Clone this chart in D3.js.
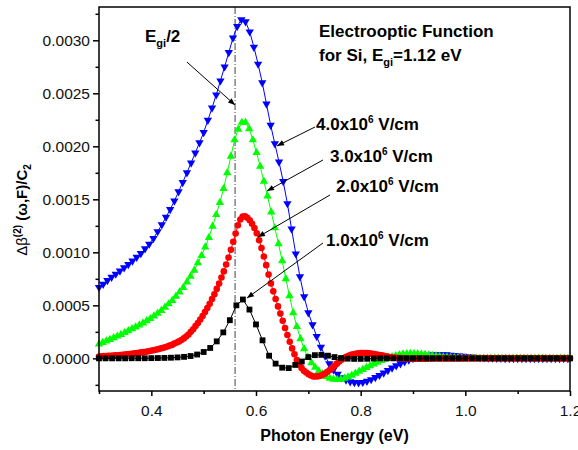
<!DOCTYPE html>
<html>
<head>
<meta charset="utf-8">
<script src="https://cdn.jsdelivr.net/npm/d3@7"></script>
<style>
  body { margin: 0; background: #fff; }
  svg { display: block; }
  text { font-family: "Liberation Sans", Arial, Helvetica, sans-serif; }
</style>
</head>
<body>
<div id="chart"></div>
<script>
// photon energy grid (eV): every series starts at 0.3, each with its own sampling step
var energyStart = 0.3;
var stepBlack = 0.0125, stepRed = 0.0045, stepGreen = 0.007, stepBlue = 0.008;

// values are delta beta / C2 in units of 1e-4
var field1 = [0,0,0,0,0,0.01,0.01,0.01,0.02,0.03,0.04,0.06,0.09,0.14,0.22,0.36,0.6,0.98,1.6,2.45,
  3.6,5.0,5.55,4.6,3.2,1.7,0.25,-0.5,-0.88,-0.92,-0.62,-0.3,0.12,0.3,0.33,0.25,0.12,0.03,-0.03,-0.05,
  -0.05,-0.04,-0.02,0,0,0,0,0,0,0,0,0,0,0,0,0,0,0,0,0,0,0,0,0,0,0,0,0,0,0,0,0,0];

var field2 = [0.18,0.19,0.21,0.22,0.23,0.25,0.27,0.28,0.30,0.32,
  0.34,0.37,0.39,0.41,0.44,0.47,0.50,0.53,0.56,0.60,
  0.63,0.67,0.71,0.76,0.81,0.86,0.92,0.97,1.04,1.12,
  1.20,1.27,1.39,1.49,1.60,1.73,1.88,2.06,2.25,2.50,
  2.75,3.04,3.33,3.66,4.00,4.36,4.75,5.15,5.60,6.05,
  6.55,7.05,7.62,8.2,8.85,9.52,10.24,11.0,11.77,12.55,
  13.1,13.37,13.4,13.26,13.02,12.7,12.3,11.8,11.14,10.41,
  9.6,8.79,7.9,7.07,6.32,5.6,4.9,4.22,3.55,2.87,
  2.2,1.57,0.94,0.38,-0.16,-0.58,-0.9,-1.17,-1.34,-1.51,
  -1.62,-1.71,-1.72,-1.70,-1.64,-1.55,-1.43,-1.27,-1.1,-0.9,
  -0.7,-0.5,-0.3,-0.13,0.03,0.15,0.25,0.34,0.39,0.44,
  0.47,0.5,0.5,0.5,0.49,0.47,0.44,0.41,0.37,0.32,
  0.28,0.24,0.19,0.15,0.11,0.08,0.06,0.03,0.02,0,
  -0.01,-0.02,-0.02,-0.03,-0.03,-0.03,-0.03,-0.03,-0.03,-0.03,
  -0.03,-0.02,-0.02,-0.02,-0.02,-0.02,-0.02,-0.02,-0.01,-0.01,
  -0.01,-0.01,-0.01,-0.01,-0.01,-0.01,0,0,0,0,
  0,0,0,0,0,0,0,0,0,0,
  0,0,0,0,0,0,0,0,0,0,
  0,0,0,0,0,0,0,0,0,0,
  0,0,0,0,0,0,0,0,0,0,
  0];

var field3 = [1.35,1.49,1.63,1.77,1.93,2.09,2.25,2.42,2.6,2.78,
  2.95,3.13,3.32,3.53,3.74,3.99,4.25,4.51,4.82,5.13,
  5.45,5.85,6.26,6.68,7.2,7.73,8.3,9.0,9.7,10.5,
  11.4,12.45,13.55,14.7,16.0,17.5,19.05,20.6,21.6,22.25,
  22.25,21.65,20.6,19.4,18.1,16.7,15.3,13.8,12.3,10.8,
  9.2,7.5,5.9,4.3,3.0,1.85,0.9,0.1,-0.42,-0.85,
  -1.2,-1.48,-1.71,-1.89,-1.98,-2.0,-1.98,-1.89,-1.76,-1.6,
  -1.42,-1.23,-1.05,-0.87,-0.7,-0.54,-0.38,-0.22,-0.09,0.03,
  0.15,0.24,0.33,0.4,0.43,0.45,0.45,0.42,0.39,0.36,
  0.31,0.27,0.22,0.18,0.13,0.1,0.08,0.05,0.04,0.02,
  0.01,0,0,0,0,0,0,0,0,0,
  0,0,0,0,0,0,0,0,0,0,
  0,0,0,0,0,0,0,0,0];

var field4 = [6.7,7.0,7.35,7.65,7.95,8.25,8.55,8.85,9.18,9.54,
  9.9,10.34,10.78,11.32,11.96,12.6,13.32,14.04,14.84,15.72,
  16.6,17.52,18.44,19.38,20.34,21.3,22.46,23.62,24.86,26.18,
  27.5,28.86,30.22,31.3,31.95,31.75,30.8,29.36,27.76,26.0,
  24.0,22.0,20.24,18.52,16.68,14.6,12.2,9.86,7.7,5.82,
  4.3,3.18,2.06,1.06,0.22,-0.5,-1.06,-1.5,-1.82,-2.04,
  -2.2,-2.28,-2.3,-2.26,-2.16,-2.0,-1.8,-1.6,-1.38,-1.14,
  -0.9,-0.7,-0.5,-0.32,-0.16,0.0,0.1,0.2,0.27,0.31,
  0.35,0.35,0.35,0.34,0.31,0.28,0.24,0.2,0.16,0.13,
  0.1,0.08,0.06,0.04,0.03,0.02,0.01,0,0,0,
  0,0,0,0,0,0,0,0,0,0,
  0,0,0];

var xMajorTicks = [0.4, 0.6, 0.8, 1.0, 1.2];
var xMinorTicks = [0.3, 0.5, 0.7, 0.9, 1.1];
var yMajorTicks = [0, 5, 10, 15, 20, 25, 30];
var yMinorTicks = [-2.5, 2.5, 7.5, 12.5, 17.5, 22.5, 27.5, 32.5];

var halfGap = 0.56; // Egi / 2

var width = 578, height = 450;
var plotLeft = 99, plotRight = 570, plotTop = 7, plotBottom = 391;

var svg = d3.select("#chart").append("svg")
  .attr("width", width)
  .attr("height", height);

var x = d3.scaleLinear().domain([0.3, 1.2]).range([plotLeft, plotRight]);
var y = d3.scaleLinear().domain([-3.08, 33.14]).range([plotBottom, plotTop]);

var defs = svg.append("defs");
defs.append("marker")
  .attr("id", "arrowhead")
  .attr("viewBox", "0 0 10 10")
  .attr("refX", 10).attr("refY", 5)
  .attr("markerUnits", "userSpaceOnUse")
  .attr("markerWidth", 8).attr("markerHeight", 7)
  .attr("orient", "auto")
  .append("path")
  .attr("d", "M0,1 L10,5 L0,9 z")
  .attr("fill", "#000");

// E_gi/2 marker line
svg.append("line")
  .attr("x1", x(halfGap)).attr("x2", x(halfGap))
  .attr("y1", plotTop).attr("y2", plotBottom)
  .attr("stroke", "#444")
  .attr("stroke-width", 1)
  .attr("stroke-dasharray", "7,2,1,2");

function toPoints(values, step) {
  return values.map(function (v, i) { return [energyStart + i * step, v]; });
}

var series = [
  { values: field4, step: stepBlue, color: "#0000ff", symbol: d3.symbolTriangle, size: 30, rotate: 180 },
  { values: field3, step: stepGreen, color: "#00ff00", symbol: d3.symbolTriangle, size: 30, rotate: 0 },
  { values: field2, step: stepRed, color: "#ff0000", symbol: d3.symbolCircle, size: 34, rotate: 0 },
  { values: field1, step: stepBlack, color: "#000000", symbol: d3.symbolSquare, size: 34, rotate: 0 }
];

var line = d3.line()
  .x(function (d) { return x(d[0]); })
  .y(function (d) { return y(d[1]); });

series.forEach(function (s) {
  var pts = toPoints(s.values, s.step);
  var g = svg.append("g");
  g.append("path")
    .datum(pts)
    .attr("d", line)
    .attr("fill", "none")
    .attr("stroke", s.color)
    .attr("stroke-width", 1);
  g.selectAll("path.pt")
    .data(pts)
    .enter().append("path")
    .attr("class", "pt")
    .attr("d", d3.symbol().type(s.symbol).size(s.size))
    .attr("transform", function (d) {
      return "translate(" + x(d[0]) + "," + y(d[1]) + ") rotate(" + s.rotate + ")";
    })
    .attr("fill", s.color);
});

// frame
svg.append("rect")
  .attr("x", plotLeft).attr("y", plotTop)
  .attr("width", plotRight - plotLeft).attr("height", plotBottom - plotTop)
  .attr("fill", "none")
  .attr("stroke", "#000")
  .attr("stroke-width", 1.5);

// axes
var gx = svg.append("g").attr("transform", "translate(0," + plotBottom + ")")
  .call(d3.axisBottom(x).tickValues(xMajorTicks).tickFormat(d3.format(".1f")).tickSize(5).tickPadding(9));
var gxm = svg.append("g").attr("transform", "translate(0," + plotBottom + ")")
  .call(d3.axisBottom(x).tickValues(xMinorTicks).tickFormat("").tickSize(3));
var gy = svg.append("g").attr("transform", "translate(" + plotLeft + ",0)")
  .call(d3.axisLeft(y).tickValues(yMajorTicks).tickFormat(function (d) { return (d / 1e4).toFixed(4); }).tickSize(6).tickPadding(3));
var gym = svg.append("g").attr("transform", "translate(" + plotLeft + ",0)")
  .call(d3.axisLeft(y).tickValues(yMinorTicks).tickFormat("").tickSize(3.5));

[gx, gxm, gy, gym].forEach(function (g) {
  g.select(".domain").remove();
  g.selectAll(".tick line").attr("stroke", "#000").attr("stroke-width", 1.5);
  g.selectAll(".tick text")
    .attr("fill", "#111")
    .style("font-size", "15.5px")
    .style("font-family", "'Liberation Sans', Arial, sans-serif");
});

// axis titles
svg.append("text")
  .attr("x", (plotLeft + plotRight) / 2).attr("y", 441)
  .attr("text-anchor", "middle")
  .style("font-size", "16px").style("font-weight", "bold")
  .text("Photon Energy (eV)");

var yt = svg.append("text")
  .attr("transform", "translate(27,210) rotate(-90)")
  .attr("text-anchor", "middle")
  .style("font-size", "15px").style("font-weight", "bold");
yt.append("tspan").style("font-weight", "normal").text("\u0394\u03b2");
yt.append("tspan").attr("dy", -6).style("font-size", "10px").text("(2)");
yt.append("tspan").attr("dy", 6).text(" (\u03c9,F)/C");
yt.append("tspan").attr("dy", 4).style("font-size", "10px").text("2");

// annotations (positions in data units)
var arrows = [
  { from: [0.468, 27.95], to: [0.5599, 23.9] },
  { from: [0.7127, 21.82], to: [0.6401, 20.03] },
  { from: [0.728, 18.71], to: [0.621, 15.78] },
  { from: [0.7414, 15.41], to: [0.6038, 11.44] },
  { from: [0.728, 10.88], to: [0.5828, 5.69] }
];
svg.selectAll("line.arrow")
  .data(arrows)
  .enter().append("line")
  .attr("class", "arrow")
  .attr("x1", function (d) { return x(d.from[0]); })
  .attr("y1", function (d) { return y(d.from[1]); })
  .attr("x2", function (d) { return x(d.to[0]); })
  .attr("y2", function (d) { return y(d.to[1]); })
  .attr("stroke", "#000")
  .attr("stroke-width", 1)
  .attr("marker-end", "url(#arrowhead)");

var fieldLabels = [
  { text: "4.0x10", at: [0.7147, 21.54] },
  { text: "3.0x10", at: [0.7414, 18.52] },
  { text: "2.0x10", at: [0.7529, 15.69] },
  { text: "1.0x10", at: [0.7338, 10.6] }
];
fieldLabels.forEach(function (l) {
  var t = svg.append("text")
    .attr("x", x(l.at[0])).attr("y", y(l.at[1]))
    .style("font-size", "17px").style("font-weight", "bold");
  t.append("tspan").text(l.text);
  t.append("tspan").attr("dy", -7).style("font-size", "10px").text("6");
  t.append("tspan").attr("dy", 7).text(" V/cm");
});

var eg = svg.append("text")
  .attr("x", x(0.3879)).attr("y", y(29.84))
  .style("font-size", "17px").style("font-weight", "bold");
eg.append("tspan").text("E");
eg.append("tspan").attr("dy", 5).style("font-size", "11px").text("gi");
eg.append("tspan").attr("dy", -5).text("/2");

svg.append("text")
  .attr("x", x(0.7204)).attr("y", y(30.31))
  .style("font-size", "17px").style("font-weight", "bold")
  .text("Electrooptic Function");
var sub = svg.append("text")
  .attr("x", x(0.7204)).attr("y", y(28.05))
  .style("font-size", "17px").style("font-weight", "bold");
sub.append("tspan").text("for Si, E");
sub.append("tspan").attr("dy", 5).style("font-size", "11px").text("gi");
sub.append("tspan").attr("dy", -5).text("=1.12 eV");
</script>
</body>
</html>
